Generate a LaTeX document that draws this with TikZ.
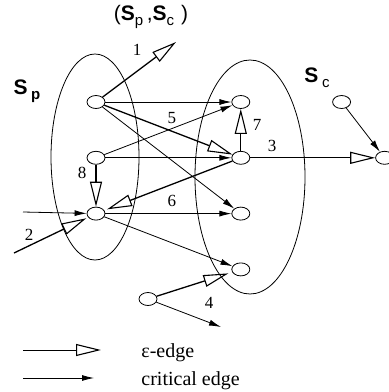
\documentclass[tikz,border=0pt]{standalone}
\usepackage{fontspec}
\setmainfont{Liberation Serif}
\newfontfamily\headfont{Liberation Sans}
\usetikzlibrary{shapes, arrows.meta, positioning, calc}
\newcommand{\setsub}[1]{\raisebox{-5pt}{\fontsize{15}{15}\selectfont #1}}

\begin{document}
\begin{tikzpicture}[x=1pt, y=-1pt, node distance=42pt and 126pt, line width=0.8pt,
        state/.style={ellipse, draw, minimum width=18pt, minimum height=13pt, inner sep=0pt},
        crit/.style={draw, -{Latex[length=12pt, width=6pt]}},
        eps/.style={draw, line width=1.3pt, -{Triangle[open, length=25pt, width=12pt, line width=1.1pt]}},
        num/.style={font=\fontsize{17}{17}\selectfont, inner sep=0pt},
        legendtext/.style={font=\fontsize{20}{20}\selectfont, inner sep=0pt, anchor=base west},
        setname/.style={font=\headfont\fontsize{21}{21}\selectfont, inner sep=0pt}]
        \useasboundingbox (0,0) rectangle (389,392);

        % the two sets
        \node [ellipse, draw, minimum width=88pt, minimum height=206pt] (Sp) at (95,157) {};
        \node [ellipse, draw, minimum width=110pt, minimum height=234pt] (Sc) at (250,177) {};
        \node [setname] (title) at (151,17) {(\textbf{S}\setsub{p}\,,\textbf{S}\setsub{c}\,\,)};
        \node [setname] (spname) at (27,91) {\textbf{S}\,\setsub{\bfseries p}};
        \node [setname] (scname) at (317,78) {\textbf{S}\,\setsub{c}};

        % states
        \node [state] (a) at (96,102) {};
        \node [state, below=of a] (b) {};
        \node [state, below=of b] (c) {};
        \node [state, right=of a] (r1) {};
        \node [state, below=of r1] (r2) {};
        \node [state, below=of r2] (r3) {};
        \node [state, below=of r3] (r4) {};
        \node [state, right=125pt of r2] (far) {};
        \node [state, right=82pt of r1] (top) {};
        \node [state] (low) at (148,299) {};
        \coordinate (out1) at (176,42);
        \coordinate (in2) at (14,253);
        \coordinate (in1) at (23,212);
        \coordinate (out4) at (221,327);

        % critical edges
        \path [crit] (a) -- (r1);
        \path [crit] (a) -- (r3);
        \path [crit] (b) -- (r1);
        \path [crit] (b) -- (r2);
        \path [crit] (c) -- (r3);
        \path [crit] (c) -- (r4);
        \path [crit] (top) -- (far);
        \path [crit] (in1) -- (c);
        \path [crit] (low) -- (out4);

        % epsilon edges
        \path [eps] (a) -- (out1);
        \path [eps] (a) -- (r2);
        \path [eps] (b) -- (c);
        \path [eps, shorten >=3pt] (r2) -- (c);
        \path [eps] (r2) -- (r1);
        \path [eps] (r2) -- (far);
        \path [eps, shorten >=2pt] (in2) -- (c);
        \path [eps, shorten >=4pt] (low) -- (r4);

        \node [num] (n1) at (137,50) {1};
        \node [num] (n2) at (29,235) {2};
        \node [num] (n3) at (272,146) {3};
        \node [num] (n4) at (209,303) {4};
        \node [num] (n5) at (172,118) {5};
        \node [num] (n6) at (172,201) {6};
        \node [num] (n7) at (257,125) {7};
        \node [num] (n8) at (82,173) {8};

        % legend
        \coordinate (la) at (23,350);
        \coordinate (lb) at (101,350);
        \coordinate (lc) at (23,378);
        \coordinate (ld) at (94,378);
        \path [eps, line width=1pt] (la) -- (lb);
        \path [crit] (lc) -- (ld);
        \node [legendtext] (leps) at (141,357) {ε-edge};
        \node [legendtext] (lcrit) at (141,385) {critical edge};
    \end{tikzpicture}
\end{document}
